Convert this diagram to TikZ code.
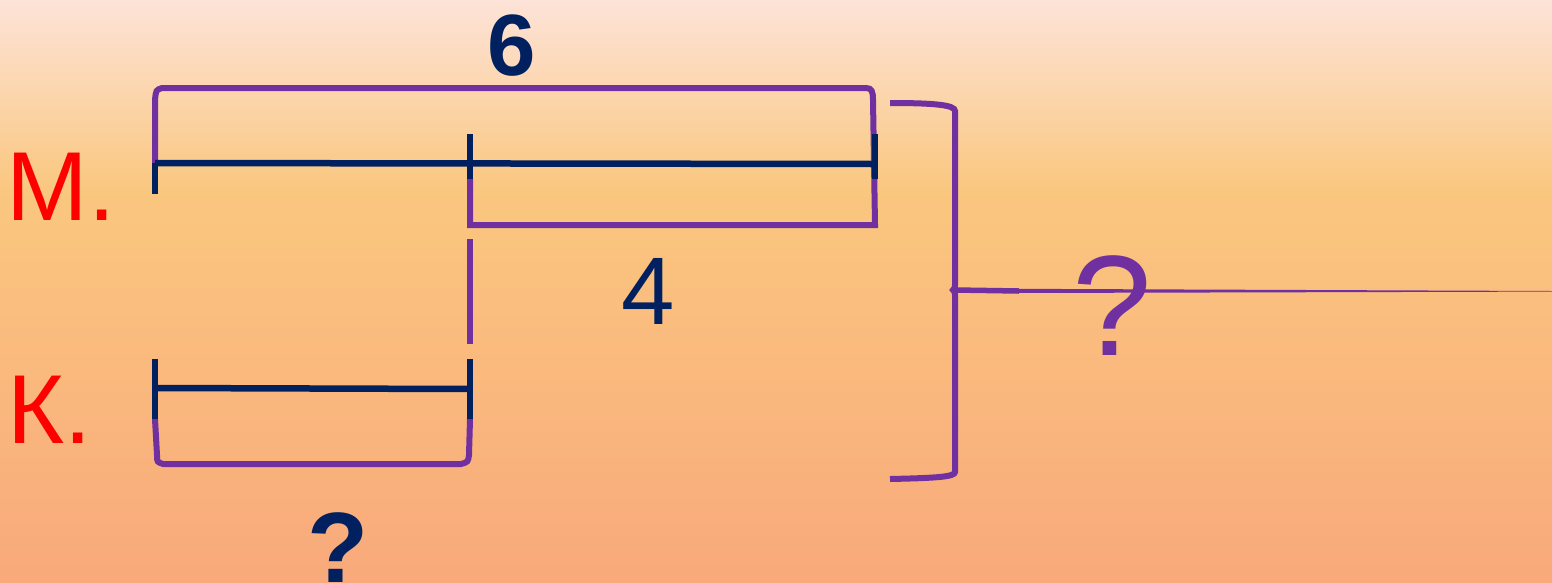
\documentclass[tikz,border=0pt]{standalone}
\usepackage{fontspec}
\setmainfont{Liberation Sans}
\usepackage{tikz}
\definecolor{bgtop}{HTML}{FDE3D8}
\definecolor{bgmid}{HTML}{FAC77F}
\definecolor{bgbot}{HTML}{F9A97B}
\definecolor{mpurple}{HTML}{7030A0}
\definecolor{mnavy}{HTML}{002060}
\definecolor{mred}{HTML}{FF0000}
\begin{document}
\begin{tikzpicture}[x=1pt,y=-1pt]
\tikzstyle{every node}+=[inner sep=0pt,anchor=base]
\tikzstyle{seg}=[mnavy,line width=6.5pt]
\tikzstyle{brk}=[mpurple,line width=6pt]
\useasboundingbox (0,0) rectangle (1552,582);
\shade [top color=bgtop,bottom color=bgmid] (0,0) rectangle (1552,190);
\shade [top color=bgmid,bottom color=bgbot] (0,190) rectangle (1552,582);
% labels
\node [mred,font=\fontsize{98}{98}\selectfont] (lblM) at (61,220) {М.};
\node [mred,font=\fontsize{98}{98}\selectfont] (lblK) at (50,443) {К.};
\node [mnavy,font=\fontsize{87}{87}\selectfont\bfseries] (six) at (512,75) {6};
\node [mnavy,font=\fontsize{96}{96}\selectfont] (four) at (648,324) {4};
\node [mnavy,font=\fontsize{100}{100}\selectfont\bfseries] (qK) at (338,582) {?};
\node [mpurple,font=\fontsize{143}{143}\selectfont] (qsum) at (1112,355) {?};
% brackets
\draw [brk] (155,163) -- (155,100) .. controls (156,90) .. (162,88) -- (866,88)
  .. controls (872,88) and (873,92) .. (873,100) -- (875,225) -- (470,225) -- (470,179);
\draw [brk] (155,419) -- (157,455) .. controls (157,462) .. (163,464) -- (461,464)
  .. controls (468,462) .. (469,455) -- (470,419);
\draw [mpurple,line width=5.5pt] (470,239) -- (470,344);
\draw [brk] (890,103) .. controls (935,103) and (955,105) .. (955,111) -- (955,284)
  .. controls (955,288) .. (953,290) .. controls (955,292) .. (955,296) -- (955,472)
  .. controls (955,477) and (935,478) .. (890,479);
\draw [mpurple,line width=5.5pt] (955,290) -- (1019,291);
\fill [mpurple] (1015,288.8) -- (1552,291) -- (1552,291.6) -- (1015,293) -- cycle;
% segments
\draw [seg] (155,163) -- (875,164);
\draw [seg] (155,163) -- (155,194);
\draw [seg] (470,134) -- (470,179);
\draw [seg] (875,134) -- (875,179);
\draw [seg] (155,388) -- (470,389);
\draw [seg] (155,359) -- (155,419);
\draw [seg] (470,359) -- (470,419);
\end{tikzpicture}
\end{document}
